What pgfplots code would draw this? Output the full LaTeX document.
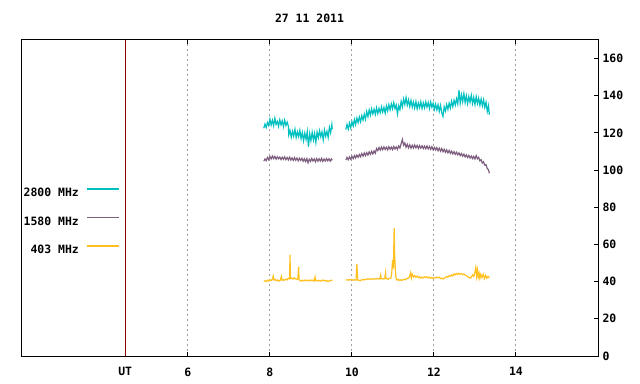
\documentclass[border=0pt]{standalone}
\usepackage{fontspec}
\setmainfont{DejaVu Sans Mono}
\usepackage{pgfplots}
\usepackage{pgfplotstable}
\pgfplotsset{compat=1.18}
\definecolor{cA}{HTML}{00C0C0}
\definecolor{cB}{HTML}{7F5F80}
\definecolor{cC}{HTML}{FFC020}
\definecolor{utred}{HTML}{8B0000}
\definecolor{gridgray}{HTML}{A0A0A0}
\newcommand{\gf}{\fontsize{11.5}{13}\selectfont\bfseries}

\pgfplotstableread{
x y
7.85 122.5
7.88 124.8
7.91 122.9
7.94 125.6
7.97 124.0
8.00 127.5
8.03 124.2
8.06 126.8
8.09 123.9
8.12 127.9
8.15 124.6
8.18 126.2
8.21 123.5
8.24 127.1
8.27 124.3
8.30 126.5
8.33 123.4
8.36 126.9
8.39 124.0
8.42 125.8
8.45 123.6
8.46 118.9
8.49 121.3
8.52 117.6
8.55 120.9
8.58 118.2
8.61 122.0
8.64 117.5
8.67 120.6
8.70 118.0
8.73 121.4
8.76 116.9
8.79 120.2
8.82 115.8
8.85 119.9
8.88 116.5
8.91 120.8
8.94 112.5
8.97 119.6
9.00 115.9
9.03 120.3
9.06 116.2
9.09 119.8
9.12 114.8
9.15 120.5
9.18 117.4
9.21 121.2
9.24 117.9
9.27 120.6
9.30 116.3
9.33 121.5
9.36 118.2
9.39 120.9
9.42 117.6
9.45 123.0
9.48 120.1
9.51 124.5
9.52 122.0
9.68 nan
9.85 121.8
9.88 124.6
9.91 122.0
9.94 125.3
9.97 122.8
10.00 126.0
10.03 123.7
10.06 127.2
10.09 124.5
10.12 128.0
10.15 125.6
10.18 128.6
10.21 126.0
10.24 129.3
10.27 126.9
10.30 130.1
10.33 127.4
10.36 131.5
10.39 128.8
10.42 132.4
10.45 129.6
10.48 133.0
10.51 130.2
10.54 132.8
10.57 130.0
10.60 133.5
10.63 130.4
10.66 133.2
10.69 130.9
10.72 134.0
10.75 131.2
10.78 133.8
10.81 130.6
10.84 134.5
10.87 131.9
10.90 135.2
10.93 132.4
10.96 135.6
10.99 133.0
11.02 136.3
11.05 133.1
11.08 135.0
11.11 130.2
11.14 134.6
11.17 132.5
11.20 137.0
11.23 134.1
11.26 138.2
11.29 135.3
11.32 139.0
11.35 135.0
11.38 137.8
11.41 134.2
11.44 137.5
11.47 133.9
11.50 136.6
11.53 133.4
11.56 136.9
11.59 133.0
11.62 136.1
11.65 133.6
11.68 136.8
11.71 133.2
11.74 136.2
11.77 133.5
11.80 136.7
11.83 133.9
11.86 136.4
11.89 133.1
11.92 136.6
11.95 133.8
11.98 136.0
12.01 132.7
12.04 135.5
12.07 132.4
12.10 135.2
12.13 131.6
12.16 134.8
12.19 131.0
12.22 128.9
12.25 134.1
12.28 131.8
12.31 135.3
12.34 132.7
12.37 136.0
12.40 133.4
12.43 137.1
12.46 134.2
12.49 137.6
12.52 135.0
12.55 138.4
12.58 135.6
12.61 143.0
12.64 136.0
12.67 140.5
12.70 136.8
12.73 141.2
12.76 136.3
12.79 140.0
12.82 135.8
12.85 139.6
12.88 136.5
12.91 140.3
12.94 135.9
12.97 139.2
13.00 135.2
13.03 139.5
13.06 135.8
13.09 138.7
13.12 134.9
13.15 138.3
13.18 134.6
13.21 137.9
13.24 133.8
13.27 136.5
13.30 131.5
13.33 134.6
13.35 129.8
}\tabA

\pgfplotstableread{
x y
7.85 104.8
7.88 106.0
7.91 105.1
7.94 106.8
7.97 105.6
8.00 107.3
8.03 106.0
8.06 107.6
8.09 106.2
8.12 107.4
8.15 105.9
8.18 107.2
8.21 106.1
8.24 107.0
8.27 105.7
8.30 106.9
8.33 105.8
8.36 107.1
8.39 105.6
8.42 106.8
8.45 105.5
8.48 106.9
8.51 105.4
8.54 106.6
8.57 105.2
8.60 106.7
8.63 105.3
8.66 106.5
8.69 105.0
8.72 106.4
8.75 105.2
8.78 106.3
8.81 104.8
8.84 106.1
8.87 104.6
8.90 106.2
8.93 103.9
8.96 105.9
8.99 104.7
9.02 106.3
9.05 104.9
9.08 106.0
9.11 104.5
9.14 106.2
9.17 104.8
9.20 106.1
9.23 104.9
9.26 106.3
9.29 104.7
9.32 106.0
9.35 104.9
9.38 106.2
9.41 105.0
9.44 106.1
9.47 104.8
9.50 106.0
9.52 105.3
9.68 nan
9.85 105.4
9.88 106.8
9.91 105.6
9.94 107.1
9.97 105.9
10.00 107.4
10.03 106.2
10.06 107.8
10.09 106.5
10.12 108.1
10.15 106.9
10.18 108.4
10.21 107.2
10.24 108.9
10.27 107.5
10.30 109.2
10.33 107.8
10.36 109.4
10.39 108.1
10.42 109.8
10.45 108.5
10.48 110.1
10.51 108.7
10.54 110.3
10.57 109.1
10.60 111.6
10.63 110.5
10.66 112.2
10.69 110.8
10.72 112.4
10.75 111.0
10.78 112.5
10.81 111.1
10.84 112.3
10.87 110.9
10.90 112.6
10.93 111.2
10.96 112.4
10.99 111.0
11.02 112.7
11.05 111.3
11.08 112.5
11.11 111.2
11.14 113.0
11.17 111.9
11.20 114.2
11.23 116.5
11.26 113.4
11.29 114.6
11.32 112.3
11.35 113.9
11.38 112.0
11.41 113.6
11.44 111.8
11.47 113.4
11.50 111.9
11.53 113.5
11.56 112.0
11.59 113.3
11.62 111.7
11.65 113.2
11.68 111.8
11.71 113.1
11.74 111.6
11.77 112.9
11.80 111.5
11.83 113.0
11.86 111.4
11.89 112.7
11.92 111.2
11.95 112.6
11.98 110.9
12.01 112.2
12.04 110.8
12.07 112.1
12.10 110.4
12.13 111.8
12.16 110.2
12.19 111.6
12.22 109.9
12.25 111.2
12.28 109.6
12.31 110.9
12.34 109.3
12.37 110.6
12.40 109.0
12.43 110.2
12.46 108.7
12.49 109.9
12.52 108.5
12.55 109.6
12.58 108.2
12.61 109.3
12.64 107.8
12.67 108.9
12.70 107.5
12.73 108.6
12.76 107.1
12.79 108.2
12.82 106.8
12.85 107.9
12.88 106.5
12.91 107.6
12.94 106.2
12.97 107.4
13.00 106.0
13.03 107.8
13.06 106.1
13.09 106.9
13.12 105.0
13.15 105.6
13.18 103.8
13.21 104.5
13.24 102.6
13.27 102.9
13.30 100.8
13.33 100.2
13.35 98.3
}\tabB

\pgfplotstableread{
x y
7.85 40.2
7.88 40.5
7.91 40.0
7.94 40.8
7.97 40.3
8.00 41.0
8.03 40.6
8.06 41.3
8.08 43.0
8.10 40.8
8.13 41.2
8.16 40.5
8.19 40.9
8.22 40.3
8.25 40.7
8.28 42.8
8.30 40.6
8.33 41.0
8.36 40.8
8.39 41.4
8.42 41.0
8.45 41.8
8.48 41.5
8.49 54.5
8.50 41.6
8.53 41.9
8.56 41.4
8.59 42.0
8.62 41.5
8.65 41.2
8.68 41.6
8.70 48.0
8.71 41.0
8.74 40.6
8.77 40.3
8.80 40.8
8.83 40.4
8.86 40.9
8.89 40.5
8.92 40.8
8.95 40.4
8.98 40.9
9.01 40.6
9.04 40.8
9.07 40.3
9.10 42.5
9.11 40.5
9.14 40.8
9.17 40.4
9.20 40.7
9.23 40.2
9.26 40.6
9.29 40.9
9.32 40.4
9.35 40.7
9.38 40.1
9.41 40.5
9.44 40.2
9.47 40.6
9.50 40.8
9.52 40.5
9.68 nan
9.85 40.9
9.88 41.0
9.91 40.8
9.94 41.1
9.97 40.9
10.00 41.2
10.03 40.7
10.06 41.0
10.10 40.8
10.12 49.5
10.14 40.9
10.17 40.7
10.20 40.5
10.23 40.9
10.26 41.1
10.29 40.9
10.32 41.3
10.35 41.1
10.38 41.5
10.41 41.3
10.44 41.5
10.47 41.2
10.50 41.5
10.53 41.3
10.56 41.6
10.59 41.4
10.62 41.7
10.65 41.4
10.68 41.6
10.70 43.5
10.71 41.5
10.74 41.7
10.77 41.4
10.80 41.8
10.82 44.8
10.83 41.5
10.86 41.6
10.89 41.3
10.92 41.8
10.95 42.0
10.97 44.5
10.99 51.5
11.01 47.0
11.03 68.8
11.04 56.0
11.06 45.0
11.08 41.5
11.10 40.8
11.13 41.2
11.16 40.7
11.19 41.0
11.22 40.6
11.25 41.1
11.28 41.3
11.31 41.0
11.34 41.6
11.37 41.9
11.40 42.4
11.43 44.8
11.45 42.0
11.47 44.0
11.50 42.6
11.53 43.3
11.56 42.4
11.59 43.0
11.62 42.1
11.65 42.6
11.68 41.9
11.71 42.4
11.74 42.0
11.77 42.6
11.80 42.2
11.83 42.7
11.86 42.0
11.89 42.4
11.92 41.8
11.95 42.2
11.98 41.7
12.01 42.1
12.04 42.0
12.07 42.5
12.10 42.1
12.13 42.4
12.16 41.6
12.19 41.9
12.22 41.4
12.25 41.8
12.28 42.3
12.31 42.8
12.34 42.4
12.37 43.2
12.40 42.9
12.43 43.6
12.46 43.1
12.49 44.2
12.52 43.6
12.55 44.4
12.58 43.8
12.61 44.5
12.64 44.0
12.67 44.3
12.70 43.7
12.73 44.1
12.76 43.5
12.79 43.2
12.82 42.7
12.85 42.3
12.88 41.9
12.91 42.4
12.94 43.6
12.97 42.8
13.00 45.2
13.02 47.6
13.04 43.0
13.06 46.2
13.08 42.5
13.10 44.6
13.12 41.8
13.14 43.9
13.17 42.2
13.20 44.0
13.23 41.6
13.26 43.4
13.29 41.9
13.32 42.8
13.35 42.0
}\tabC

\begin{document}
\begin{tikzpicture}
\path[use as bounding box] (0,0) rectangle (640bp,384bp);
\begin{axis}[
  at={(21bp,28bp)}, anchor=south west,
  scale only axis, width=577bp, height=316bp,
  xmin=1.93, xmax=16, ymin=0, ymax=170,
  axis line style={black, line width=1bp},
  font=\gf,
  title={27 11 2011},
  title style={font=\gf, yshift=8bp},
  xtick={4.47,6,8,10,12,14},
  xticklabels={UT,6,8,10,12,14},
  ytick={0,20,...,160},
  ytick pos=right, yticklabel pos=right,
  xtick pos=both,
  tick align=inside,
  major tick length=4bp,
  tick style={black, line width=1bp},
  tick label style={font=\gf},
  xticklabel style={yshift=-8bp},
  yticklabel style={xshift=1bp},
  /pgf/number format/assume math mode=true,
  xmajorgrids,
  grid style={gridgray, line width=1bp, dash pattern=on 2bp off 3bp},
  unbounded coords=jump,
  legend plot pos=right,
  legend cell align=right,
  legend image code/.code={\draw[#1, line width=1.2bp] (0bp,4bp) -- (32bp,4bp);},
  legend style={at={(0.1716,0.5316)}, anchor=north east, draw=none, fill=none,
    inner sep=0pt, outer sep=0pt, row sep=18.5bp, font=\gf,
    nodes={inner sep=0pt},
    /tikz/every odd column/.append style={column sep=8bp}},
]
\addplot[utred, line width=1bp, forget plot] coordinates {(4.47,0) (4.47,170)};
\addplot[cA, line width=1.2bp] table[x=x,y=y] {\tabA};
\addlegendentry{2800 MHz}
\addplot[cB, line width=1.2bp] table[x=x,y=y] {\tabB};
\addlegendentry{1580 MHz}
\addplot[cC, line width=1.2bp] table[x=x,y=y] {\tabC};
\addlegendentry{403 MHz}
\end{axis}
\end{tikzpicture}
\end{document}
